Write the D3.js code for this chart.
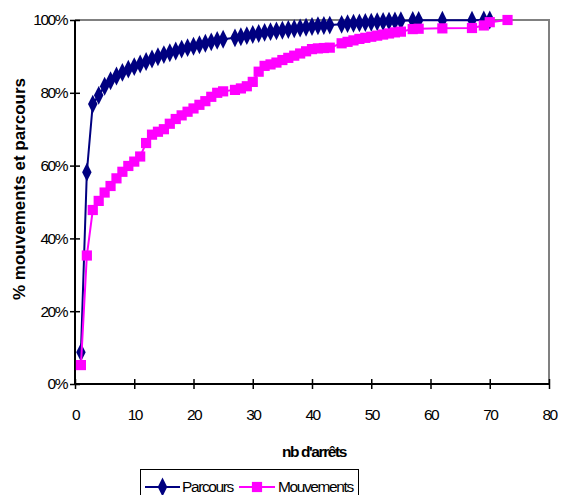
<!DOCTYPE html>
<html>
<head>
<meta charset="utf-8">
<script src="https://cdn.jsdelivr.net/npm/d3@7/dist/d3.min.js"></script>
<style>
  html, body { margin: 0; padding: 0; background: #fff; }
  svg { display: block; }
  text { font-family: "Liberation Sans", Arial, sans-serif; }
</style>
</head>
<body>
<svg id="chart" width="561" height="495"></svg>
<script>
// Number of stops (x values shared by both series)
const stops = [1,2,3,4,5,6,7,8,9,10,11,12,13,14,15,16,17,18,19,20,21,22,23,24,25,
  27,28,29,30,31,32,33,34,35,36,37,38,39,40,41,42,43,
  45,46,47,48,49,50,51,52,53,54,55,57,58,62,67,69,70,73];

// Cumulative share of routes (%)
const parcours = [8.7,58.2,76.9,79.3,81.8,83.3,84.6,85.6,86.5,87.2,87.9,88.6,89.3,89.9,90.5,91.0,91.5,92.0,92.4,92.8,93.2,93.6,94.0,94.4,94.7,
  95.1,95.4,95.7,96.0,96.3,96.6,96.8,97.0,97.2,97.4,97.6,97.8,98.0,98.2,98.4,98.5,98.6,
  98.8,99.0,99.1,99.2,99.3,99.4,99.5,99.6,99.7,99.75,99.8,99.85,99.9,99.92,99.95,99.98,100,null];

// Cumulative share of movements (%)
const mouvements = [5.2,35.3,47.8,50.3,52.6,54.4,56.5,58.3,59.9,61.1,62.5,66.2,68.5,69.3,70.0,71.5,72.8,73.8,74.8,75.7,76.7,77.7,78.9,80.0,80.4,
  80.8,81.2,81.8,83.0,85.8,87.4,87.8,88.3,89.0,89.6,90.2,90.8,91.4,92.0,92.2,92.3,92.4,
  93.6,94.0,94.4,94.8,95.1,95.4,95.7,96.0,96.3,96.6,96.8,97.5,97.6,97.7,97.8,98.5,99.4,100];

const xTicks = [0,10,20,30,40,50,60,70,80];
const yTicks = [0,20,40,60,80,100];

const seriesNames = ["Parcours", "Mouvements"];
const seriesColors = ["#000080", "#FF00FF"];

const svg = d3.select("#chart");
const plotLeft = 75, plotRight = 549, plotTop = 20, plotBottom = 384;

const x = d3.scaleLinear().domain([0, 80]).range([plotLeft, plotRight]);
const y = d3.scaleLinear().domain([0, 100]).range([plotBottom, plotTop]);

// Plot frame: grey top/right edges
svg.append("path")
  .attr("d", `M${plotLeft},${plotTop}H${plotRight}V${plotBottom}`)
  .attr("fill", "none").attr("stroke", "#808080").attr("stroke-width", 2);

// Y axis
const yAxis = svg.append("g").attr("transform", `translate(${plotLeft},0)`)
  .call(d3.axisLeft(y).tickValues(yTicks).tickSize(5).tickPadding(3).tickFormat(d => d + "%"));
yAxis.selectAll(".tick line").attr("x2", 5).attr("x1", -5);

// X axis
const xAxis = svg.append("g").attr("transform", `translate(0,${plotBottom})`)
  .call(d3.axisBottom(x).tickValues(xTicks).tickSize(5).tickPadding(20));
xAxis.selectAll(".tick line").attr("y1", -5).attr("y2", 5);

[yAxis, xAxis].forEach(g => {
  g.select(".domain").attr("stroke", "#000").attr("stroke-width", 2);
  g.selectAll(".tick line").attr("stroke", "#000").attr("stroke-width", 1.5);
  g.selectAll(".tick text")
    .attr("fill", "#000")
    .style("font-size", "15.5px")
    .style("letter-spacing", "-1.5px")
    .style("font-family", "'Liberation Sans', Arial, sans-serif");
});
xAxis.select(".domain").attr("d", `M${plotLeft},0H${plotRight}`);
yAxis.select(".domain").attr("d", `M0,${plotBottom}V${plotTop}`);

// Axis titles
svg.append("text")
  .attr("x", 314).attr("y", 457)
  .attr("text-anchor", "middle")
  .style("font-size", "15.5px").style("font-weight", "bold").style("letter-spacing", "-1.4px")
  .text("nb d'arrêts");

svg.append("text")
  .attr("transform", "translate(25,189) rotate(-90)")
  .attr("text-anchor", "middle")
  .style("font-size", "17px").style("font-weight", "bold")
  .text("% mouvements et parcours");

// Series
const diamond = d3.symbol().type(d3.symbolDiamond).size(78);
const square = d3.symbol().type(d3.symbolSquare).size(104);
const symbols = [diamond, square];
const seriesValues = [parcours, mouvements];

seriesValues.forEach((vals, i) => {
  const pts = stops.map((s, k) => [s, vals[k]]).filter(p => p[1] != null);
  const g = svg.append("g");
  g.append("path")
    .datum(pts)
    .attr("fill", "none")
    .attr("stroke", seriesColors[i])
    .attr("stroke-width", 2)
    .attr("d", d3.line().x(d => x(d[0])).y(d => y(d[1])));
  g.selectAll("path.mark")
    .data(pts)
    .join("path")
    .attr("class", "mark")
    .attr("transform", d => `translate(${x(d[0])},${y(d[1])})` + (i === 0 ? " scale(1,1.15)" : ""))
    .attr("d", symbols[i])
    .attr("fill", seriesColors[i]);
});

// Legend
const lg = svg.append("g");
lg.append("rect")
  .attr("x", 140.5).attr("y", 469.5).attr("width", 218).attr("height", 40)
  .attr("fill", "#fff").attr("stroke", "#000").attr("stroke-width", 1);
const legendItems = [
  { x0: 145, x1: 180, tx: 182 },
  { x0: 239, x1: 275, tx: 278 }
];
legendItems.forEach((it, i) => {
  lg.append("line")
    .attr("x1", it.x0).attr("x2", it.x1).attr("y1", 487).attr("y2", 487)
    .attr("stroke", seriesColors[i]).attr("stroke-width", 2);
  lg.append("path")
    .attr("transform", `translate(${(it.x0 + it.x1) / 2},487)` + (i === 0 ? " scale(1,1.15)" : ""))
    .attr("d", symbols[i])
    .attr("fill", seriesColors[i]);
  lg.append("text")
    .attr("x", it.tx).attr("y", 492)
    .style("font-size", "15.5px").style("letter-spacing", "-1.4px")
    .text(seriesNames[i]);
});
</script>
</body>
</html>
